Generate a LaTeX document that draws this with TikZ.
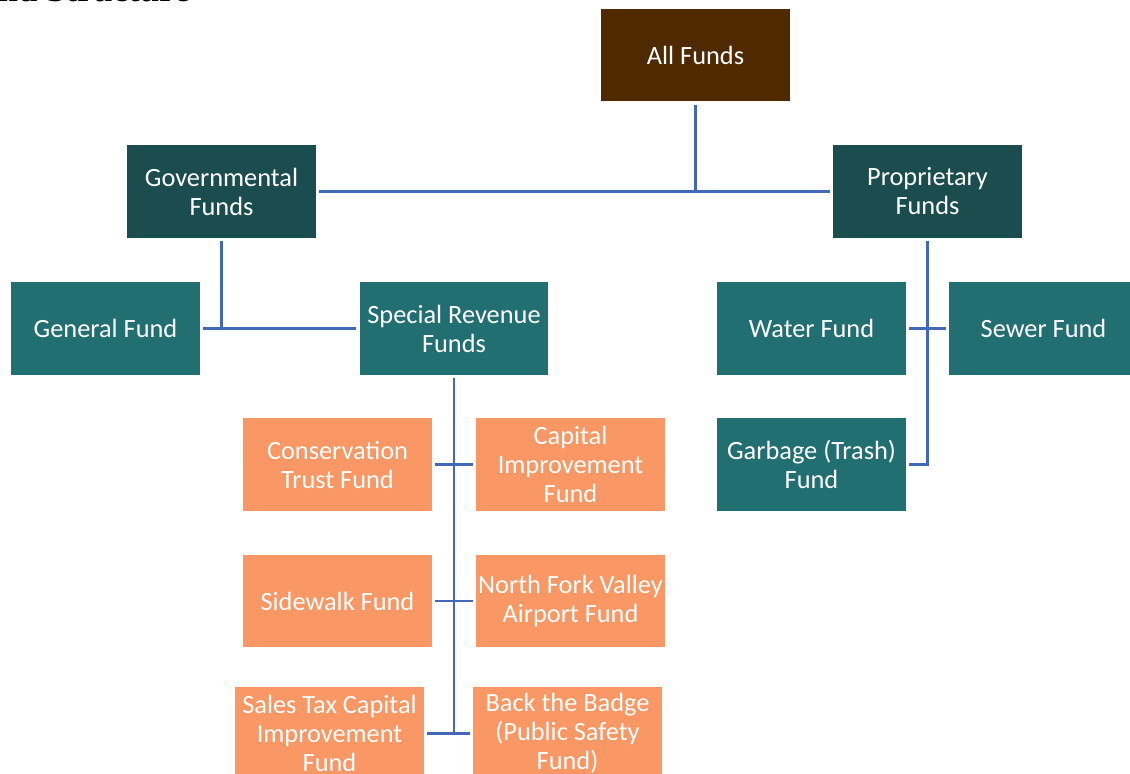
\documentclass[tikz,border=0pt]{standalone}
\usepackage{fontspec}
\setmainfont{Carlito}
\newfontfamily\headfont{Liberation Serif}
\definecolor{allbrown}{HTML}{4F2900}
\definecolor{darkteal}{HTML}{1B4D4E}
\definecolor{midteal}{HTML}{226F72}
\definecolor{fundorange}{HTML}{F99765}
\definecolor{linkblue}{HTML}{4468B8}
\tikzset{
    fundbox/.style={minimum width=3.78cm, minimum height=1.86cm, inner sep=0pt,
        outer sep=1.8pt, align=center, text=white,
        font=\fontsize{15}{16.5}\selectfont},
    topbox/.style={fundbox, fill=allbrown},
    groupbox/.style={fundbox, fill=darkteal},
    tealbox/.style={fundbox, fill=midteal},
    orangebox/.style={fundbox, fill=fundorange},
    link/.style={draw=linkblue, line width=1.5pt}
}
\begin{document}
\begin{tikzpicture}[x=0.02cm, y=-0.02cm]
        \useasboundingbox (0,0) rectangle (1130,774);
        % heading, cut off by the page edge
        \node[anchor=base west, inner sep=0pt, font=\headfont\bfseries\fontsize{20}{24}\selectfont] (head) at (-2,2) {nd Structure};
        % boxes
        \node[topbox] (all) at (695.5,55) {All Funds};
        \node[groupbox] (gov) at (221.5,191.5) {Governmental\\Funds};
        \node[groupbox] (prop) at (927.5,191.5) {Proprietary\\Funds};
        \node[tealbox] (general) at (105.5,328.5) {General Fund};
        \node[tealbox] (special) at (454,328.5) {Special Revenue\\Funds};
        \node[tealbox] (water) at (811.5,328.5) {Water Fund};
        \node[tealbox] (sewer) at (1043.5,328.5) {Sewer Fund};
        \node[tealbox] (garbage) at (811.5,464.5) {Garbage (Trash)\\Fund};
        \node[orangebox] (cons) at (337.5,464.5) {Conservation\\Trust Fund};
        \node[orangebox] (cap) at (570.5,464.5) {Capital\\Improvement\\Fund};
        \node[orangebox] (side) at (337.5,601) {Sidewalk Fund};
        \node[orangebox] (north) at (570.5,601) {North Fork Valley\\Airport Fund};
        \node[orangebox] (sales) at (329.5,733.5) {Sales Tax Capital\\Improvement\\Fund};
        \node[orangebox] (badge) at (567.5,733.5) {Back the Badge\\(Public Safety\\Fund)};
        % connectors
        \draw[link] (gov.east) -- (prop.west);
        \draw[link] (all.south) -- (all.south |- gov.east);
        \draw[link] (gov.south) -- (gov.south |- general.east);
        \draw[link] (general.east) -- (special.west);
        \draw[link] (special.south) -- (special.south |- sales.east);
        \draw[link] (cons.east) -- (cap.west);
        \draw[link] (side.east) -- (north.west);
        \draw[link] (sales.east) -- (badge.west);
        \draw[link] (prop.south) |- (garbage.east);
        \draw[link] (water.east) -- (sewer.west);
    \end{tikzpicture}
\end{document}
